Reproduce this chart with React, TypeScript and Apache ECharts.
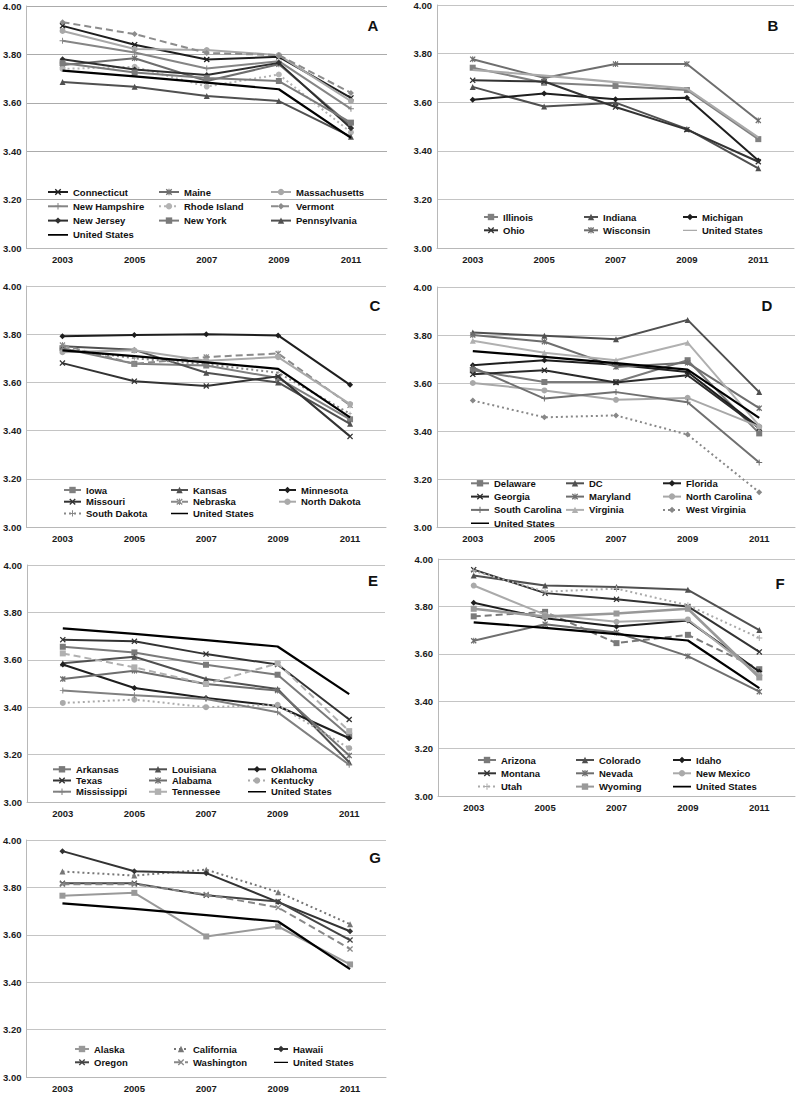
import React, { useEffect, useRef } from "react";
import * as echarts from "echarts";

// ---------- data ----------
const years = ["2003", "2005", "2007", "2009", "2011"];
const unitedStates = [3.733, 3.709, 3.683, 3.656, 3.455];

// A (Northeast)
const connecticut = [3.918, 3.84, 3.779, 3.79, 3.62];
const maine = [3.756, 3.784, 3.69, 3.759, 3.505];
const massachusetts = [3.897, 3.822, 3.818, 3.797, 3.607];
const newHampshire = [3.856, 3.808, 3.742, 3.772, 3.575];
const rhodeIsland = [3.74, 3.749, 3.667, 3.717, 3.478];
const vermont = [3.933, 3.884, 3.806, 3.797, 3.641];
const newJersey = [3.78, 3.738, 3.715, 3.765, 3.495];
const newYork = [3.764, 3.725, 3.702, 3.69, 3.518];
const pennsylvania = [3.686, 3.666, 3.628, 3.607, 3.46];

// B (East North Central)
const illinois = [3.742, 3.68, 3.667, 3.65, 3.448];
const indiana = [3.663, 3.582, 3.598, 3.49, 3.328];
const michigan = [3.61, 3.636, 3.612, 3.618, 3.36];
const ohio = [3.69, 3.685, 3.58, 3.487, 3.355];
const wisconsin = [3.777, 3.7, 3.757, 3.757, 3.525];

// C (West North Central)
const iowa = [3.742, 3.677, 3.67, 3.618, 3.447];
const kansas = [3.75, 3.735, 3.64, 3.6, 3.428];
const minnesota = [3.792, 3.797, 3.8, 3.795, 3.59];
const missouri = [3.68, 3.605, 3.585, 3.625, 3.376];
const nebraska = [3.755, 3.677, 3.705, 3.72, 3.505];
const northDakota = [3.725, 3.733, 3.69, 3.705, 3.51];
const southDakota = [3.74, 3.7, 3.675, 3.64, 3.47];

// D (South Atlantic)
const delaware = [3.653, 3.604, 3.604, 3.695, 3.39];
const dc = [3.81, 3.797, 3.782, 3.863, 3.562];
const florida = [3.674, 3.695, 3.676, 3.646, 3.415];
const georgia = [3.636, 3.653, 3.602, 3.632, 3.412];
const maryland = [3.8, 3.772, 3.667, 3.684, 3.495];
const northCarolina = [3.6, 3.569, 3.53, 3.538, 3.418];
const southCarolina = [3.665, 3.535, 3.562, 3.52, 3.269];
const virginia = [3.776, 3.726, 3.695, 3.768, 3.422];
const westVirginia = [3.527, 3.457, 3.465, 3.385, 3.145];

// E (South Central)
const arkansas = [3.655, 3.631, 3.579, 3.537, 3.28];
const louisiana = [3.585, 3.613, 3.519, 3.477, 3.168];
const oklahoma = [3.58, 3.481, 3.439, 3.405, 3.269];
const texas = [3.685, 3.678, 3.624, 3.58, 3.348];
const alabama = [3.519, 3.554, 3.498, 3.47, 3.196];
const kentucky = [3.418, 3.432, 3.4, 3.41, 3.227];
const mississippi = [3.47, 3.45, 3.435, 3.379, 3.157];
const tennessee = [3.627, 3.568, 3.498, 3.585, 3.299];

// F (Mountain)
const arizona = [3.758, 3.777, 3.645, 3.68, 3.535];
const colorado = [3.93, 3.888, 3.882, 3.87, 3.7];
const idaho = [3.815, 3.75, 3.715, 3.74, 3.525];
const montana = [3.955, 3.856, 3.83, 3.8, 3.608];
const nevada = [3.655, 3.725, 3.69, 3.59, 3.44];
const newMexico = [3.888, 3.765, 3.735, 3.745, 3.51];
const utah = [3.95, 3.862, 3.875, 3.805, 3.667];
const wyoming = [3.79, 3.757, 3.77, 3.79, 3.5];

// G (Pacific)
const alaska = [3.765, 3.777, 3.593, 3.635, 3.475];
const california = [3.867, 3.85, 3.875, 3.78, 3.645];
const hawaii = [3.953, 3.868, 3.86, 3.738, 3.615];
const oregon = [3.817, 3.817, 3.767, 3.74, 3.578];
const washington = [3.813, 3.813, 3.77, 3.715, 3.54];

// ---------- styling ----------
const XS = "path://M0,1.5L1.5,0L5,3.5L8.5,0L10,1.5L6.5,5L10,8.5L8.5,10L5,6.5L1.5,10L0,8.5L3.5,5Z";
const AST = "path://M0,1.5L1.5,0L5,3.5L8.5,0L10,1.5L6.5,5L10,8.5L8.5,10L5,6.5L1.5,10L0,8.5L3.5,5Z M4.2,0H5.8V10H4.2Z";
const PLUS = "path://M4.2,0H5.8V4.2H10V5.8H5.8V10H4.2V5.8H0V4.2H4.2Z";
const LINE_ICON = "path://M0,0L0.01,0L0,0.01Z M0,3.1H20V4.9H0Z M19.99,7.99L20,8L19.99,8Z";
const FONT = "'Liberation Sans', Arial, sans-serif";

type S = { name: string; data: number[]; color: string; symbol: string; size?: number; dash?: any; width?: number };
const us = (color = "#000"): S => ({ name: "United States", data: unitedStates, color, symbol: "none", width: 2.2 });

const panels: any[] = [
  {
    key: "A", grid: { left: 25, top: 6, width: 362, height: 242 }, letter: [373, 25], gridColor: "#ababab",
    legend: { cols: [47, 158, 270], top: 187, gap: 4.3, iw: 20 },
    series: [
      { name: "Connecticut", data: connecticut, color: "#1e1e1e", symbol: XS },
      { name: "Maine", data: maine, color: "#6e6e6e", symbol: AST },
      { name: "Massachusetts", data: massachusetts, color: "#a8a8a8", symbol: "circle" },
      { name: "New Hampshire", data: newHampshire, color: "#858585", symbol: PLUS },
      { name: "Rhode Island", data: rhodeIsland, color: "#b4b4b4", symbol: "circle", dash: [2, 3] },
      { name: "Vermont", data: vermont, color: "#8c8c8c", symbol: "diamond", dash: [7, 4] },
      { name: "New Jersey", data: newJersey, color: "#2e2e2e", symbol: "diamond" },
      { name: "New York", data: newYork, color: "#7a7a7a", symbol: "rect" },
      { name: "Pennsylvania", data: pennsylvania, color: "#505050", symbol: "triangle" },
      us(),
    ],
  },
  {
    key: "B", grid: { left: 437, top: 5, width: 357, height: 243 }, letter: [773, 25],
    legend: { cols: [483, 583, 682], top: 212, gap: 3.3, iw: 14 },
    series: [
      { name: "Illinois", data: illinois, color: "#808080", symbol: "rect" },
      { name: "Indiana", data: indiana, color: "#505050", symbol: "triangle" },
      { name: "Michigan", data: michigan, color: "#1e1e1e", symbol: "diamond" },
      { name: "Ohio", data: ohio, color: "#333333", symbol: XS },
      { name: "Wisconsin", data: wisconsin, color: "#6e6e6e", symbol: AST },
      us("#aaaaaa"),
    ],
  },
  {
    key: "C", grid: { left: 26, top: 286, width: 360, height: 241 }, letter: [375, 305],
    legend: { cols: [63, 170, 278], top: 485, gap: 1.7, iw: 17 },
    series: [
      { name: "Iowa", data: iowa, color: "#808080", symbol: "rect" },
      { name: "Kansas", data: kansas, color: "#505050", symbol: "triangle" },
      { name: "Minnesota", data: minnesota, color: "#1e1e1e", symbol: "diamond" },
      { name: "Missouri", data: missouri, color: "#333333", symbol: XS },
      { name: "Nebraska", data: nebraska, color: "#8a8a8a", symbol: AST, dash: [7, 4] },
      { name: "North Dakota", data: northDakota, color: "#aaaaaa", symbol: "circle" },
      { name: "South Dakota", data: southDakota, color: "#888888", symbol: PLUS, dash: [2, 3], size: 4 },
      us(),
    ],
  },
  {
    key: "D", grid: { left: 437, top: 287, width: 358, height: 240 }, letter: [767, 305],
    legend: { cols: [470, 565, 662], top: 478.3, gap: 3.3, iw: 18 },
    series: [
      { name: "Delaware", data: delaware, color: "#7a7a7a", symbol: "rect" },
      { name: "DC", data: dc, color: "#505050", symbol: "triangle" },
      { name: "Florida", data: florida, color: "#1e1e1e", symbol: "diamond" },
      { name: "Georgia", data: georgia, color: "#2a2a2a", symbol: XS },
      { name: "Maryland", data: maryland, color: "#6e6e6e", symbol: AST },
      { name: "North Carolina", data: northCarolina, color: "#a8a8a8", symbol: "circle" },
      { name: "South Carolina", data: southCarolina, color: "#707070", symbol: PLUS },
      { name: "Virginia", data: virginia, color: "#b0b0b0", symbol: "triangle" },
      { name: "West Virginia", data: westVirginia, color: "#888888", symbol: "diamond", dash: [2, 3] },
      us(),
    ],
  },
  {
    key: "E", grid: { left: 27, top: 565, width: 358, height: 237 }, letter: [373, 580],
    legend: { cols: [52, 148, 247], top: 764.3, gap: 1.2, iw: 18 },
    series: [
      { name: "Arkansas", data: arkansas, color: "#7a7a7a", symbol: "rect" },
      { name: "Louisiana", data: louisiana, color: "#505050", symbol: "triangle" },
      { name: "Oklahoma", data: oklahoma, color: "#1e1e1e", symbol: "diamond" },
      { name: "Texas", data: texas, color: "#333333", symbol: XS },
      { name: "Alabama", data: alabama, color: "#6e6e6e", symbol: AST },
      { name: "Kentucky", data: kentucky, color: "#aaaaaa", symbol: "circle", dash: [2, 3] },
      { name: "Mississippi", data: mississippi, color: "#808080", symbol: PLUS },
      { name: "Tennessee", data: tennessee, color: "#b0b0b0", symbol: "rect", dash: [7, 4] },
      us(),
    ],
  },
  {
    key: "F", grid: { left: 438, top: 559, width: 357, height: 237 }, letter: [780, 583],
    legend: { cols: [477, 575, 672], top: 755, gap: 3.3, iw: 18 },
    series: [
      { name: "Arizona", data: arizona, color: "#7a7a7a", symbol: "rect", dash: [7, 4] },
      { name: "Colorado", data: colorado, color: "#505050", symbol: "triangle" },
      { name: "Idaho", data: idaho, color: "#1e1e1e", symbol: "diamond" },
      { name: "Montana", data: montana, color: "#333333", symbol: XS },
      { name: "Nevada", data: nevada, color: "#6e6e6e", symbol: AST },
      { name: "New Mexico", data: newMexico, color: "#aaaaaa", symbol: "circle" },
      { name: "Utah", data: utah, color: "#aaaaaa", symbol: PLUS, dash: [2, 3] },
      { name: "Wyoming", data: wyoming, color: "#999999", symbol: "rect", width: 2.6 },
      us(),
    ],
  },
  {
    key: "G", grid: { left: 24, top: 840, width: 362, height: 238 }, letter: [375, 857],
    legend: { cols: [74, 173, 273], top: 1044, gap: 3.3, iw: 14 },
    series: [
      { name: "Alaska", data: alaska, color: "#999999", symbol: "rect" },
      { name: "California", data: california, color: "#777777", symbol: "triangle", dash: [2, 3] },
      { name: "Hawaii", data: hawaii, color: "#333333", symbol: "diamond" },
      { name: "Oregon", data: oregon, color: "#444444", symbol: XS },
      { name: "Washington", data: washington, color: "#888888", symbol: XS, dash: [7, 4] },
      us(),
    ],
  },
];

function buildOption() {
  const grid: any[] = [];
  const xAxis: any[] = [];
  const yAxis: any[] = [];
  const series: any[] = [];
  const legend: any[] = [];
  const graphic: any[] = [];
  const labelStyle = { fontFamily: FONT, fontWeight: "bold", fontSize: 9.5, color: "#1a1a1a" };

  panels.forEach((p, i) => {
    grid.push({ ...p.grid, containLabel: false });
    xAxis.push({
      type: "category", gridIndex: i, data: years, boundaryGap: true,
      axisLine: { lineStyle: { color: "#b8b8b8", width: 1 } }, axisTick: { show: false },
      axisLabel: { ...labelStyle, margin: 6 }, splitLine: { show: false },
    });
    yAxis.push({
      type: "value", gridIndex: i, min: 3, max: 4, interval: 0.2,
      axisLine: { show: true, lineStyle: { color: "#b8b8b8", width: 1 } }, axisTick: { show: false },
      axisLabel: { ...labelStyle, margin: 5, formatter: (v: number) => v.toFixed(2) },
      splitLine: { lineStyle: { color: p.gridColor ?? "#c4c4c4", width: 1 } },
    });
    const names: string[] = [];
    p.series.forEach((s: S, k: number) => {
      const nm = `${p.key}:${s.name}`;
      names.push(nm);
      series.push({
        name: nm, type: "line", xAxisIndex: i, yAxisIndex: i, data: s.data,
        symbol: s.symbol, symbolSize: s.size ?? 6, showSymbol: s.symbol !== "none",
        lineStyle: { color: s.color, width: s.width ?? 2, type: s.dash ?? "solid" },
        itemStyle: { color: s.color }, color: s.color,
        emphasis: { disabled: true }, z: 2 + k,
      });
    });
    p.legend.cols.forEach((x: number, c: number) => {
      const data = names
        .filter((_, idx) => idx % 3 === c)
        .map((n) => (n.endsWith("United States") ? { name: n, icon: LINE_ICON } : n));
      legend.push({
        orient: "vertical", left: x, top: p.legend.top, padding: 0,
        itemWidth: p.legend.iw, itemHeight: 8, itemGap: p.legend.gap,
        selectedMode: false, data,
        formatter: (n: string) => n.slice(2),
        textStyle: { ...labelStyle, color: "#111", lineHeight: 10 },
      });
    });
    graphic.push({
      type: "text", x: p.letter[0], y: p.letter[1],
      style: { text: p.key, font: `bold 15px ${FONT}`, fill: "#111", align: "center", verticalAlign: "middle" },
    });
  });

  return { animation: false, backgroundColor: "#ffffff", grid, xAxis, yAxis, series, legend, graphic };
}

export default function App() {
  const ref = useRef<HTMLDivElement>(null);
  useEffect(() => {
    if (!ref.current) return;
    const chart = echarts.init(ref.current, undefined, { renderer: "svg" });
    chart.setOption(buildOption() as any);
    return () => chart.dispose();
  }, []);
  return (
    <div
      ref={ref}
      style={{ position: "fixed", left: 0, top: 0, width: 798, height: 1093, background: "#fff" }}
    />
  );
}
